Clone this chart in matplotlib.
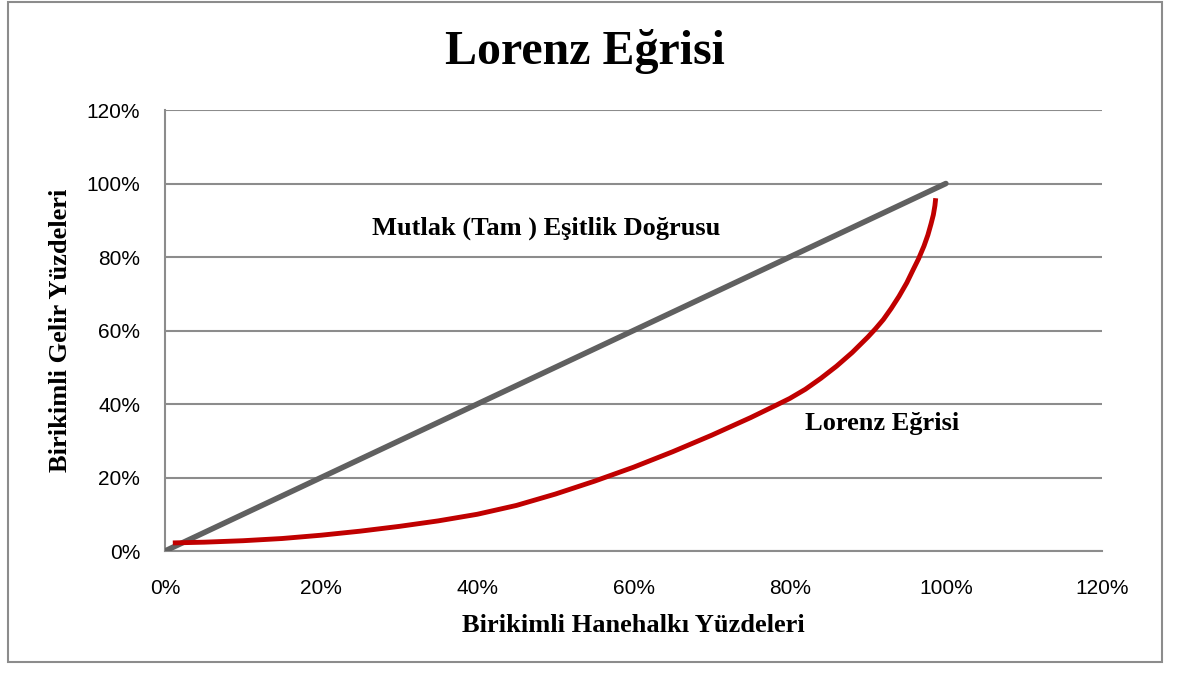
import matplotlib.pyplot as plt
from matplotlib.patches import Rectangle
from matplotlib.ticker import FuncFormatter

# Mutlak eşitlik doğrusu
esitlik_x = [0, 100]
esitlik_y = [0, 100]

# Lorenz eğrisi
lorenz_x = [1, 5, 10, 15, 20, 25, 30, 35, 40, 45, 50, 55, 60, 65, 70, 75, 78,
            80, 82, 84, 86, 88, 90, 91, 92, 93, 94, 95, 95.8, 96.5, 97.2,
            97.7, 98.1, 98.4, 98.6, 98.7]
lorenz_y = [2.2, 2.4, 2.8, 3.4, 4.3, 5.4, 6.7, 8.2, 10, 12.4, 15.5, 19, 22.8,
            27, 31.5, 36.3, 39.4, 41.5, 44, 47, 50.3, 54, 58.2, 60.5, 63, 66,
            69.3, 73, 76.5, 79.5, 83, 86, 89, 91.5, 94, 96]

tick_vals = [0, 20, 40, 60, 80, 100, 120]

baslik = "Lorenz Eğrisi"
x_etiket = "Birikimli Hanehalkı Yüzdeleri"
y_etiket = "Birikimli Gelir Yüzdeleri"

serif = ["Liberation Serif", "DejaVu Serif"]

fig = plt.figure(figsize=(11.77, 6.75), dpi=100)
ax = fig.add_axes([0.1402, 0.1837, 0.7961, 0.6533])

# dış çerçeve
fig.patches.append(Rectangle((8 / 1177, 1 - 662 / 675), 1154 / 1177, 660 / 675,
                             transform=fig.transFigure, fill=False,
                             edgecolor="#8c8c8c", linewidth=1.5))

ax.set_xlim(0, 120)
ax.set_ylim(0, 120)
ax.set_xticks(tick_vals)
ax.set_yticks(tick_vals)
fmt = FuncFormatter(lambda v, p: f"{v:.0f}%")
ax.xaxis.set_major_formatter(fmt)
ax.yaxis.set_major_formatter(fmt)
ax.tick_params(axis="x", length=0, labelsize=15, pad=20)
ax.tick_params(axis="y", length=0, labelsize=15, pad=18)
for lab in ax.get_xticklabels() + ax.get_yticklabels():
    lab.set_fontfamily("Liberation Sans")

ax.grid(axis="y", color="#8c8c8c", linewidth=1.5)
ax.set_axisbelow(True)
for s in ["top", "right"]:
    ax.spines[s].set_visible(False)
for s in ["left", "bottom"]:
    ax.spines[s].set_color("#8c8c8c")
    ax.spines[s].set_linewidth(1.5)

ax.plot(esitlik_x, esitlik_y, color="#606060", linewidth=4, solid_capstyle="round", zorder=3)
ax.plot(lorenz_x, lorenz_y, color="#c00000", linewidth=3.5, solid_capstyle="butt",
        solid_joinstyle="round", zorder=4)

ax.text(48.8, 87.9, "Mutlak (Tam ) Eşitlik Doğrusu", ha="center", va="center",
        fontsize=19, fontweight="bold", family=serif)
ax.text(91.8, 34.8, "Lorenz Eğrisi", ha="center", va="center",
        fontsize=19, fontweight="bold", family=serif)

fig.text(585 / 1177, 1 - 52 / 675, baslik, ha="center", va="center",
         fontsize=34.5, fontweight="bold", family=serif)
ax.set_xlabel(x_etiket, fontsize=19, fontweight="bold", family=serif, labelpad=12)
ax.set_ylabel(y_etiket, fontsize=19, fontweight="bold", family=serif, labelpad=10)

fig.savefig("out.png", dpi=100)
